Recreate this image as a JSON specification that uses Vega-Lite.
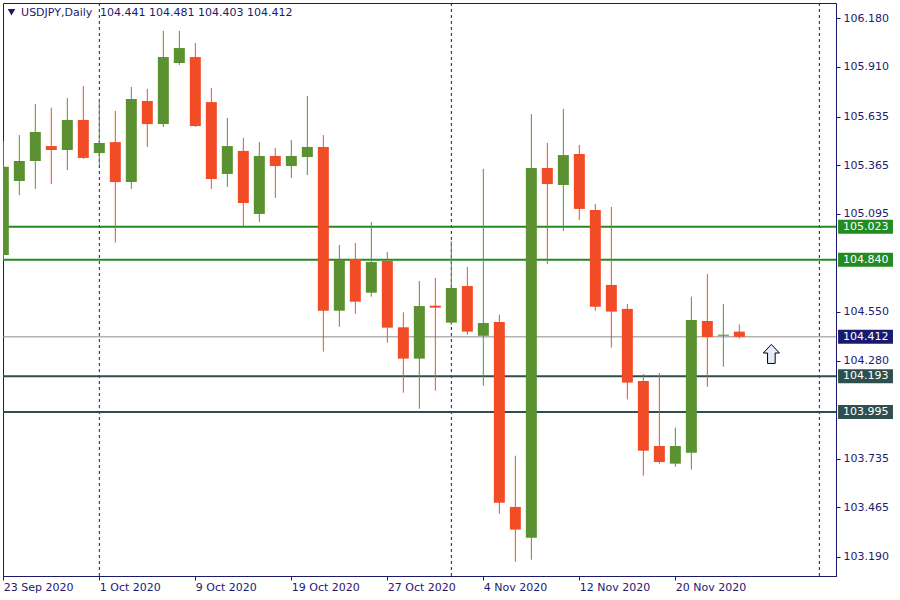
{
  "$schema": "https://vega.github.io/schema/vega-lite/v6.json",
  "width": 833,
  "height": 573,
  "autosize": {"type": "none"},
  "padding": {"left": 3, "top": 3, "right": 64, "bottom": 24},
  "background": "white",
  "config": {
    "view": {"stroke": "#1a1a6b", "strokeWidth": 1},
    "font": "DejaVu Sans",
    "scale": {"continuousPadding": 0},
    "axis": {
      "domainColor": "#1a1a6b",
      "tickColor": "#1a1a6b",
      "labelColor": "#1e1a6e",
      "labelFont": "DejaVu Sans",
      "labelFontSize": 11,
      "tickSize": 4,
      "grid": false
    }
  },
  "datasets": {
    "candles": [
      {"i": 0, "date": "2020-09-23", "open": 104.866, "high": 105.499, "low": 104.839, "close": 105.356},
      {"i": 1, "date": "2020-09-24", "open": 105.277, "high": 105.532, "low": 105.199, "close": 105.388},
      {"i": 2, "date": "2020-09-25", "open": 105.388, "high": 105.704, "low": 105.233, "close": 105.549},
      {"i": 3, "date": "2020-09-28", "open": 105.471, "high": 105.684, "low": 105.260, "close": 105.449},
      {"i": 4, "date": "2020-09-29", "open": 105.449, "high": 105.738, "low": 105.338, "close": 105.616},
      {"i": 5, "date": "2020-09-30", "open": 105.616, "high": 105.804, "low": 105.399, "close": 105.405},
      {"i": 6, "date": "2020-10-01", "open": 105.432, "high": 105.734, "low": 105.366, "close": 105.488},
      {"i": 7, "date": "2020-10-02", "open": 105.493, "high": 105.666, "low": 104.935, "close": 105.271},
      {"i": 8, "date": "2020-10-05", "open": 105.271, "high": 105.799, "low": 105.233, "close": 105.732},
      {"i": 9, "date": "2020-10-06", "open": 105.721, "high": 105.788, "low": 105.466, "close": 105.593},
      {"i": 10, "date": "2020-10-07", "open": 105.593, "high": 106.110, "low": 105.577, "close": 105.965},
      {"i": 11, "date": "2020-10-08", "open": 105.932, "high": 106.110, "low": 105.921, "close": 106.015},
      {"i": 12, "date": "2020-10-09", "open": 105.965, "high": 106.043, "low": 105.577, "close": 105.582},
      {"i": 13, "date": "2020-10-12", "open": 105.715, "high": 105.793, "low": 105.233, "close": 105.288},
      {"i": 14, "date": "2020-10-13", "open": 105.316, "high": 105.627, "low": 105.244, "close": 105.471},
      {"i": 15, "date": "2020-10-14", "open": 105.444, "high": 105.516, "low": 105.027, "close": 105.155},
      {"i": 16, "date": "2020-10-15", "open": 105.094, "high": 105.493, "low": 105.049, "close": 105.416},
      {"i": 17, "date": "2020-10-16", "open": 105.416, "high": 105.460, "low": 105.183, "close": 105.360},
      {"i": 18, "date": "2020-10-19", "open": 105.360, "high": 105.505, "low": 105.294, "close": 105.416},
      {"i": 19, "date": "2020-10-20", "open": 105.410, "high": 105.749, "low": 105.310, "close": 105.466},
      {"i": 20, "date": "2020-10-21", "open": 105.466, "high": 105.532, "low": 104.330, "close": 104.557},
      {"i": 21, "date": "2020-10-22", "open": 104.557, "high": 104.922, "low": 104.468, "close": 104.839},
      {"i": 22, "date": "2020-10-23", "open": 104.844, "high": 104.933, "low": 104.540, "close": 104.607},
      {"i": 23, "date": "2020-10-26", "open": 104.657, "high": 105.049, "low": 104.635, "close": 104.827},
      {"i": 24, "date": "2020-10-27", "open": 104.833, "high": 104.883, "low": 104.380, "close": 104.463},
      {"i": 25, "date": "2020-10-28", "open": 104.465, "high": 104.548, "low": 104.102, "close": 104.291},
      {"i": 26, "date": "2020-10-29", "open": 104.291, "high": 104.722, "low": 104.013, "close": 104.583},
      {"i": 27, "date": "2020-10-30", "open": 104.585, "high": 104.739, "low": 104.113, "close": 104.574},
      {"i": 28, "date": "2020-11-02", "open": 104.491, "high": 104.944, "low": 104.478, "close": 104.683},
      {"i": 29, "date": "2020-11-03", "open": 104.694, "high": 104.800, "low": 104.424, "close": 104.441},
      {"i": 30, "date": "2020-11-04", "open": 104.418, "high": 105.344, "low": 104.141, "close": 104.489},
      {"i": 31, "date": "2020-11-05", "open": 104.494, "high": 104.535, "low": 103.430, "close": 103.491},
      {"i": 32, "date": "2020-11-06", "open": 103.468, "high": 103.752, "low": 103.164, "close": 103.342},
      {"i": 33, "date": "2020-11-09", "open": 103.297, "high": 105.649, "low": 103.175, "close": 105.349},
      {"i": 34, "date": "2020-11-10", "open": 105.349, "high": 105.488, "low": 104.816, "close": 105.260},
      {"i": 35, "date": "2020-11-11", "open": 105.255, "high": 105.677, "low": 104.999, "close": 105.421},
      {"i": 36, "date": "2020-11-12", "open": 105.427, "high": 105.477, "low": 105.061, "close": 105.122},
      {"i": 37, "date": "2020-11-13", "open": 105.116, "high": 105.149, "low": 104.557, "close": 104.579},
      {"i": 38, "date": "2020-11-16", "open": 104.700, "high": 105.133, "low": 104.352, "close": 104.552},
      {"i": 39, "date": "2020-11-17", "open": 104.567, "high": 104.594, "low": 104.065, "close": 104.158},
      {"i": 40, "date": "2020-11-18", "open": 104.167, "high": 104.206, "low": 103.641, "close": 103.780},
      {"i": 41, "date": "2020-11-19", "open": 103.806, "high": 104.211, "low": 103.708, "close": 103.717},
      {"i": 42, "date": "2020-11-20", "open": 103.708, "high": 103.908, "low": 103.691, "close": 103.806},
      {"i": 43, "date": "2020-11-23", "open": 103.769, "high": 104.635, "low": 103.675, "close": 104.506},
      {"i": 44, "date": "2020-11-24", "open": 104.500, "high": 104.761, "low": 104.135, "close": 104.411},
      {"i": 45, "date": "2020-11-25", "open": 104.418, "high": 104.594, "low": 104.246, "close": 104.424},
      {"i": 46, "date": "2020-11-26", "open": 104.441, "high": 104.481, "low": 104.403, "close": 104.412}
    ],
    "levels": [
      {"price": 105.023, "kind": "upper"},
      {"price": 104.840, "kind": "upper"},
      {"price": 104.412, "kind": "last"},
      {"price": 104.193, "kind": "lower"},
      {"price": 103.995, "kind": "lower"}
    ],
    "separators": [
      {"i": 6},
      {"i": 28},
      {"i": 51}
    ]
  },
  "layer": [
    {
      "data": {"name": "separators"},
      "mark": {"type": "rule", "color": "#1a1a6b", "strokeWidth": 1, "strokeDash": [3, 3]},
      "encoding": {
        "x": {"field": "i", "type": "quantitative", "title": null}
      }
    },
    {
      "data": {"name": "levels"},
      "mark": {"type": "rule"},
      "encoding": {
        "y": {"field": "price", "type": "quantitative", "title": null},
        "color": {
          "condition": [
            {"test": "datum.kind == 'upper'", "value": "#228b22"},
            {"test": "datum.kind == 'lower'", "value": "#2f4f4f"}
          ],
          "value": "#8c8c8c"
        },
        "strokeWidth": {
          "condition": {"test": "datum.kind == 'last'", "value": 1},
          "value": 2
        }
      }
    },
    {
      "data": {"name": "candles"},
      "mark": {"type": "rule", "strokeWidth": 1, "clip": true},
      "encoding": {
        "x": {
          "field": "i", "type": "quantitative", "title": null,
          "scale": {"domain": [-0.02, 52.04], "nice": false, "zero": false, "padding": 0},
          "axis": {
            "orient": "bottom",
            "values": [0, 6, 12, 18, 24, 30, 36, 42],
            "labelExpr": "['23 Sep 2020','1 Oct 2020','9 Oct 2020','19 Oct 2020','27 Oct 2020','4 Nov 2020','12 Nov 2020','20 Nov 2020'][round(datum.value/6)]",
            "labelAlign": "left",
            "labelPadding": 1,
            "labelFlush": false,
            "labelOverlap": false,
            "title": null
          }
        },
        "y": {
          "field": "low", "type": "quantitative", "title": null,
          "scale": {"domain": [103.0845, 106.265], "nice": false, "zero": false, "padding": 0},
          "axis": {
            "orient": "right",
            "values": [106.18, 105.91, 105.635, 105.365, 105.095, 104.55, 104.28, 103.735, 103.465, 103.19],
            "format": ".3f",
            "labelAlign": "left",
            "labelPadding": 3,
            "labelFlush": false,
            "labelOverlap": false,
            "title": null
          }
        },
        "y2": {"field": "high"},
        "color": {
          "condition": {"test": "datum.close >= datum.open", "value": "#5b9130"},
          "value": "#f24c27"
        }
      }
    },
    {
      "data": {"name": "candles"},
      "mark": {"type": "bar", "width": 11, "clip": true},
      "encoding": {
        "x": {"field": "i", "type": "quantitative", "title": null},
        "y": {"field": "open", "type": "quantitative", "title": null},
        "y2": {"field": "close"},
        "color": {
          "condition": {"test": "datum.close >= datum.open", "value": "#5b9130"},
          "value": "#f24c27"
        }
      }
    },
    {
      "data": {"name": "levels"},
      "mark": {"type": "rect", "height": 14, "clip": false},
      "encoding": {
        "x": {"datum": 52.17, "type": "quantitative", "title": null},
        "x2": {"datum": 55.6},
        "y": {"field": "price", "type": "quantitative", "title": null},
        "color": {
          "condition": [
            {"test": "datum.kind == 'upper'", "value": "#228b22"},
            {"test": "datum.kind == 'lower'", "value": "#2f4f4f"}
          ],
          "value": "#191970"
        }
      }
    },
    {
      "data": {"name": "levels"},
      "mark": {"type": "text", "align": "left", "baseline": "middle", "fontSize": 11, "font": "DejaVu Sans", "color": "white", "clip": false},
      "encoding": {
        "x": {"datum": 52.48, "type": "quantitative", "title": null},
        "y": {"field": "price", "type": "quantitative", "title": null},
        "text": {"field": "price", "type": "quantitative", "format": ".3f"}
      }
    },
    {
      "data": {"values": [{"label": "USDJPY,Daily", "pos": 1.11}, {"label": "104.441 104.481 104.403 104.412", "pos": 6.04}]},
      "mark": {"type": "text", "align": "left", "baseline": "middle", "fontSize": 11, "font": "DejaVu Sans", "color": "#1e1a6e"},
      "encoding": {
        "x": {"field": "pos", "type": "quantitative", "title": null},
        "y": {"datum": 106.209, "type": "quantitative", "title": null},
        "text": {"field": "label"}
      }
    },
    {
      "data": {"values": [{"pos": 0.51}]},
      "mark": {"type": "point", "shape": "triangle-down", "filled": true, "size": 55, "color": "#1a1a6b", "opacity": 1},
      "encoding": {
        "x": {"field": "pos", "type": "quantitative", "title": null},
        "y": {"datum": 106.214, "type": "quantitative", "title": null}
      }
    },
    {
      "data": {"values": [{"i": 48.0, "price": 104.317}]},
      "mark": {
        "type": "point",
        "shape": "M0,-1 L0.85,-0.1 L0.4,-0.1 L0.4,1 L-0.4,1 L-0.4,-0.1 L-0.85,-0.1 Z",
        "filled": true,
        "fill": "#e4ecf7",
        "stroke": "#000000",
        "strokeWidth": 1,
        "opacity": 1,
        "size": 361
      },
      "encoding": {
        "x": {"field": "i", "type": "quantitative", "title": null},
        "y": {"field": "price", "type": "quantitative", "title": null}
      }
    }
  ]
}
